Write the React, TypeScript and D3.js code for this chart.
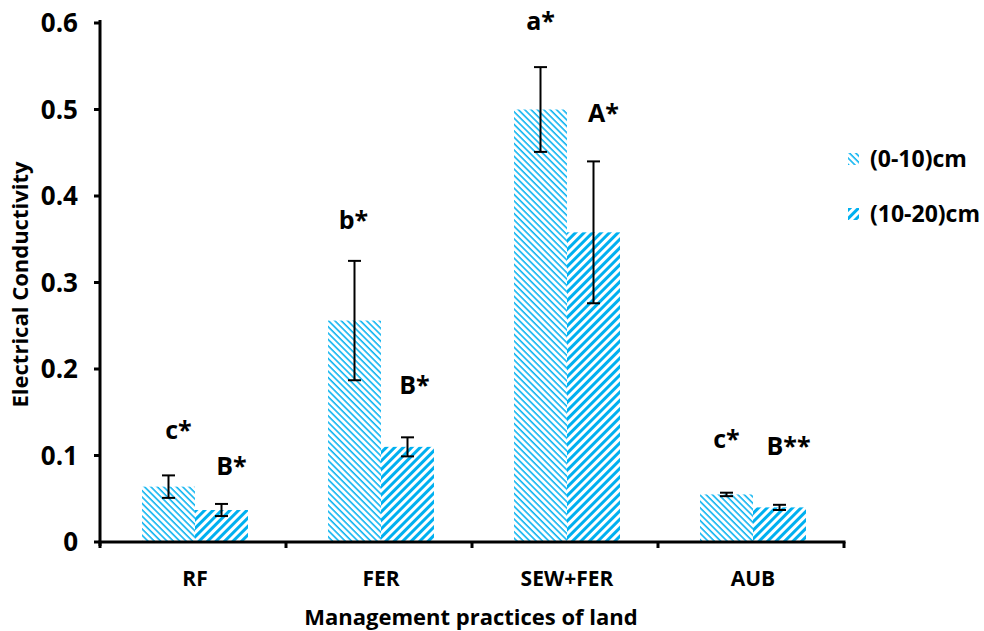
import React from "react";
import * as d3 from "d3";

// Management practices of land (x categories)
const categories = ["RF", "FER", "SEW+FER", "AUB"];
// Soil depth series
const seriesNames = ["(0-10)cm", "(10-20)cm"];
// Electrical conductivity means
const shallowValues = [0.064, 0.256, 0.5, 0.055];
const deepValues = [0.037, 0.11, 0.358, 0.04];
// Error (± half-range)
const shallowErrors = [0.013, 0.069, 0.049, 0.002];
const deepErrors = [0.007, 0.011, 0.082, 0.003];
// Significance letters and the heights they sit at
const shallowLetters = ["c*", "b*", "a*", "c*"];
const deepLetters = ["B*", "B*", "A*", "B**"];
const shallowLetterY = [0.119, 0.362, 0.592, 0.109];
const deepLetterY = [0.0775, 0.171, 0.4855, 0.1006];
// Axis ticks
const yTicks = [0, 0.1, 0.2, 0.3, 0.4, 0.5, 0.6];

// horizontal nudge of each letter from its bar centre (px)
const shallowLetterDx = [10, -1, 0, 0];
const deepLetterDx = [10, 7, 10, 9];

const W = 984;
const H = 631;
const M = { left: 100, right: 140, top: 23, bottom: 89 };
const BLUE = "#00b0f0";
const FONT = "'Open Sans', 'Noto Sans', sans-serif";

export default function App() {
  const x = d3
    .scaleBand<string>()
    .domain(categories)
    .range([M.left, W - M.right]);
  const y = d3
    .scaleLinear()
    .domain([0, 0.6])
    .range([H - M.bottom, M.top]);
  const barW = 53;
  const groupCenter = (c: string) => (x(c) as number) + x.bandwidth() / 2 + 2;

  const series = [
    { name: seriesNames[0], values: shallowValues, errs: shallowErrors, letters: shallowLetters, ly: shallowLetterY, ldx: shallowLetterDx, fill: "url(#patDense)", off: -barW },
    { name: seriesNames[1], values: deepValues, errs: deepErrors, letters: deepLetters, ly: deepLetterY, ldx: deepLetterDx, fill: "url(#patWide)", off: 0 },
  ];

  const y0 = y(0);

  return (
    <svg width={W} height={H} style={{ display: "block", position: "absolute", left: 0, top: 0 }}>
      <defs>
        <pattern id="patDense" patternUnits="userSpaceOnUse" width={4.5} height={4.5} patternTransform="rotate(-45)">
          <line x1={1} y1={0} x2={1} y2={4.5} stroke={BLUE} strokeWidth={1.5} />
        </pattern>
        <pattern id="patWide" patternUnits="userSpaceOnUse" width={6} height={6} patternTransform="rotate(45)">
          <line x1={1.5} y1={0} x2={1.5} y2={6} stroke={BLUE} strokeWidth={3} />
        </pattern>
      </defs>
      <rect width={W} height={H} fill="#fff" />

      {/* bars */}
      {series.map((s, si) =>
        categories.map((c, i) => {
          const bx = groupCenter(c) + s.off;
          return (
            <rect key={`b${si}-${i}`} x={bx} y={y(s.values[i])} width={barW} height={y0 - y(s.values[i])} fill={s.fill} />
          );
        })
      )}

      {/* error bars */}
      {series.map((s, si) =>
        categories.map((c, i) => {
          const cx = groupCenter(c) + s.off + barW / 2;
          const top = y(s.values[i] + s.errs[i]);
          const bot = y(s.values[i] - s.errs[i]);
          return (
            <g key={`e${si}-${i}`} stroke="#000" strokeWidth={2}>
              <line x1={cx} x2={cx} y1={top} y2={bot} />
              <line x1={cx - 6.5} x2={cx + 6.5} y1={top} y2={top} />
              <line x1={cx - 6.5} x2={cx + 6.5} y1={bot} y2={bot} />
            </g>
          );
        })
      )}

      {/* significance letters */}
      {series.map((s, si) =>
        categories.map((c, i) => (
          <text
            key={`l${si}-${i}`}
            x={groupCenter(c) + s.off + barW / 2 + s.ldx[i]}
            y={y(s.ly[i])}
            textAnchor="middle"
            fontFamily={FONT}
            fontWeight="bold"
            fontSize={25}
          >
            {s.letters[i]}
          </text>
        ))
      )}

      {/* y axis */}
      <line x1={M.left} x2={M.left} y1={y(0.6) - 3} y2={y0 + 4} stroke="#000" strokeWidth={3} />
      {yTicks.map((t) => (
        <g key={`yt${t}`}>
          <line x1={M.left - 6} x2={M.left} y1={y(t)} y2={y(t)} stroke="#000" strokeWidth={3} />
          <text x={78} y={y(t)} dy="0.36em" textAnchor="end" fontFamily={FONT} fontWeight="bold" fontSize={26}>
            {t === 0 ? "0" : d3.format(".1f")(t)}
          </text>
        </g>
      ))}

      {/* x axis */}
      <line x1={M.left - 1.5} x2={W - M.right + 1.5} y1={y0} y2={y0} stroke="#000" strokeWidth={3} />
      {[...categories.map((c) => x(c) as number), W - M.right].map((v, i) => (
        <line key={`xt${i}`} x1={v} x2={v} y1={y0} y2={y0 + 6} stroke="#000" strokeWidth={3} />
      ))}
      {categories.map((c) => (
        <text key={`xl${c}`} x={groupCenter(c)} y={586} textAnchor="middle" fontFamily={FONT} fontWeight="bold" fontSize={21}>
          {c}
        </text>
      ))}

      {/* axis titles */}
      <text x={471} y={625} textAnchor="middle" fontFamily={FONT} fontWeight="bold" fontSize={22}>
        Management practices of land
      </text>
      <text
        transform={`translate(28, ${(y(0) + y(0.6)) / 2 + 2}) rotate(-90)`}
        textAnchor="middle"
        fontFamily={FONT}
        fontWeight="bold"
        fontSize={22}
      >
        Electrical Conductivity
      </text>

      {/* legend */}
      {series.map((s, si) => (
        <g key={`lg${si}`} transform={`translate(848, ${153 + si * 55})`}>
          <rect x={0} y={0} width={11} height={12} fill={s.fill} />
          <text x={22} y={14} fontFamily={FONT} fontWeight="bold" fontSize={23}>
            {s.name}
          </text>
        </g>
      ))}
    </svg>
  );
}
